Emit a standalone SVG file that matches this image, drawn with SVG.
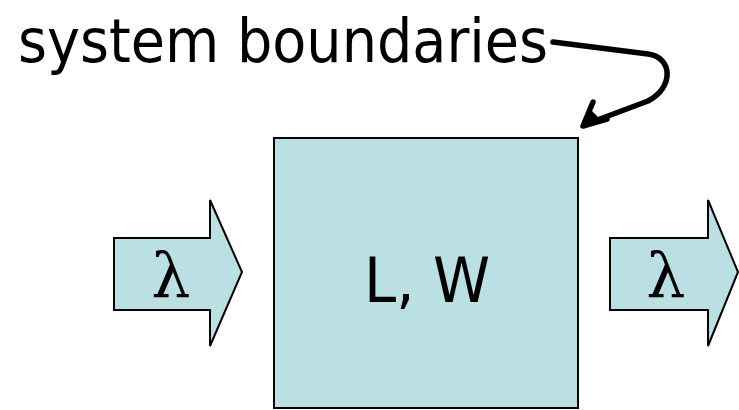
<svg xmlns="http://www.w3.org/2000/svg" width="739" height="410" viewBox="0 0 739 410">
<style>
.shape{fill:#BBE0E3;stroke:#000;stroke-width:2}
.lbl{font-family:"DejaVu Sans","Liberation Sans",sans-serif;fill:#000}
.lam{font-family:"DejaVu Serif",serif;font-size:62px;fill:#000;text-anchor:middle}
.conn{fill:none;stroke:#000;stroke-width:5.5;stroke-linecap:round;stroke-linejoin:round}
</style>
<rect width="739" height="410" fill="#fff"/>
<text class="lbl" x="18" y="62" font-size="61" textLength="530" lengthAdjust="spacingAndGlyphs">system boundaries</text>
<g id="system">
<rect class="shape" x="274" y="138" width="304" height="270"/>
<text class="lbl" x="364" y="302" font-size="62" textLength="126" lengthAdjust="spacingAndGlyphs">L, W</text>
</g>
<g id="input">
<polygon class="shape" points="114,238 210,238 210,200 242,272 210,346 210,310 114,310"/>
<text class="lam" x="171" y="297">λ</text>
</g>
<g id="output">
<polygon class="shape" points="610,238 708,238 708,200 738,272 708,346 708,310 610,310"/>
<text class="lam" x="666" y="297">λ</text>
</g>
<g id="connectors">
<path class="conn" d="M553,42 L648,54 C673,57 674,88 648,101 L592,122"/>
<path class="conn" d="M593,102 L583,126 L607,119"/>
<polygon points="583,126 590,109 600,119" fill="#000"/>
</g>
</svg>
